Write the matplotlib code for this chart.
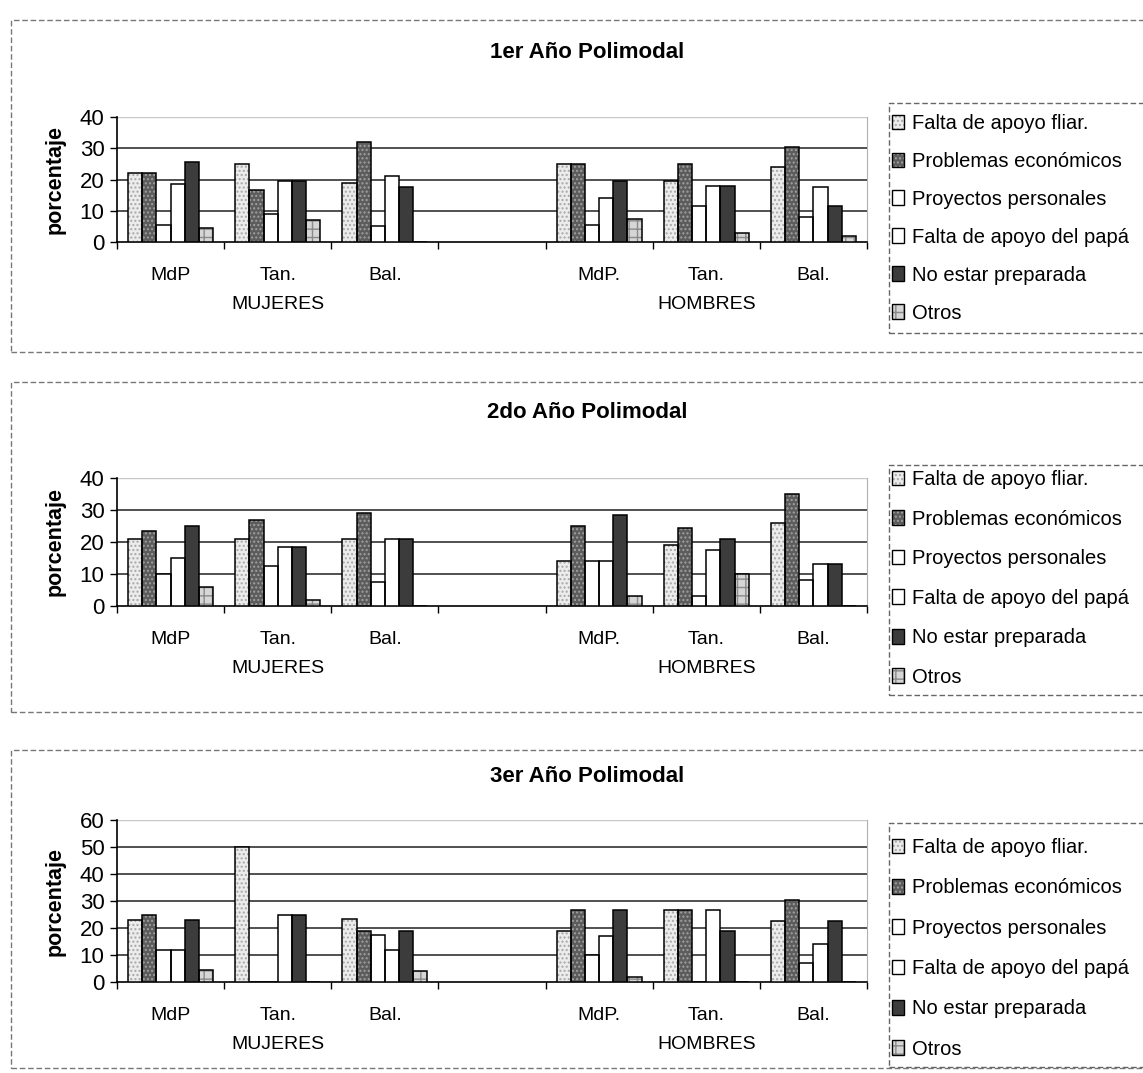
import matplotlib
matplotlib.use("Agg")
import matplotlib.pyplot as plt
from matplotlib.patches import Patch, Rectangle
import numpy as np

# tamaño de la figura en pixeles
W, H = 1143, 1073

categorias = ["MdP", "Tan.", "Bal.", "", "MdP.", "Tan.", "Bal."]
grupos = ["MUJERES", "HOMBRES"]
series = ["Falta de apoyo fliar.", "Problemas económicos", "Proyectos personales",
          "Falta de apoyo del papá", "No estar preparada", "Otros"]
titulos = ["1er Año Polimodal", "2do Año Polimodal", "3er Año Polimodal"]
y_max = [40, 40, 60]

# columnas: MdP, Tan., Bal. (mujeres) y MdP., Tan., Bal. (hombres)
anio1 = [[22, 25, 19, 25, 19.5, 24],
         [22, 16.5, 32, 25, 25, 30.5],
         [5.5, 9, 5, 5.5, 11.5, 8],
         [18.5, 19.5, 21, 14, 18, 17.5],
         [25.5, 19.5, 17.5, 19.5, 18, 11.5],
         [4.5, 7, 0, 7.5, 3, 2]]

anio2 = [[21, 21, 21, 14, 19, 26],
         [23.5, 27, 29, 25, 24.5, 35],
         [10, 12.5, 7.5, 14, 3, 8],
         [15, 18.5, 21, 14, 17.5, 13],
         [25, 18.5, 21, 28.5, 21, 13],
         [6, 2, 0, 3, 10, 0]]

anio3 = [[23, 50, 23.5, 19, 26.5, 22.5],
         [25, 0, 19, 26.5, 26.5, 30.5],
         [12, 0, 17.5, 10, 0, 7],
         [12, 25, 12, 17, 26.5, 14],
         [23, 25, 19, 26.5, 19, 22.5],
         [4.5, 0, 4, 2, 0, 0]]

# estilo de cada serie: (relleno, trama, color de la trama)
estilos = [("#ececec", "....", "#a8a8a8"),
           ("#5c5c5c", "....", "#a0a0a0"),
           ("white", None, "white"),
           ("white", None, "white"),
           ("#3c3c3c", None, "#3c3c3c"),
           ("#d6d6d6", "++", "#8a8a8a")]

# posiciones en pixeles (izq, der, arriba, abajo) de cada grafico
ejes_px = [(117, 867, 117, 242), (117, 867, 478, 606), (117, 867, 820, 982)]
caja_px = [(11, 20, 352), (11, 382, 712), (11, 750, 1068)]
titulo_y = [52, 412, 777]
# leyenda: (izq, arriba, abajo, separacion, primer renglon)
leyenda_px = [(889, 103, 333, 0.94, 114), (889, 465, 695, 1.02, 470), (889, 823, 1067, 1.06, 838)]

plt.rcParams["font.family"] = ["Liberation Sans", "DejaVu Sans"]


def fx(x):
    return x / W


def fy(y):
    return 1 - y / H


def dibujar_panel(fig, k, datos):
    """ Dibuja uno de los tres graficos de barras agrupadas. """

    izq, der, arr, abj = ejes_px[k]
    ax = fig.add_axes([fx(izq), fy(abj), fx(der - izq), (abj - arr) / H])

    cols = np.array([0, 1, 2, 4, 5, 6])
    w = 0.132
    for i, valores in enumerate(datos):
        face, trama, color_trama = estilos[i]
        xs = cols + (i - 2.5) * w
        ax.bar(xs, valores, w, color=face, hatch=trama, edgecolor=color_trama,
               linewidth=0, zorder=3)
        ax.bar(xs, valores, w, fill=False, edgecolor="black", linewidth=1.1, zorder=4)

    ymax = y_max[k]
    ax.set_xlim(-0.5, 6.5)
    ax.set_ylim(0, ymax)
    ticks = np.arange(0, ymax + 1, 10)
    ax.set_yticks(ticks)
    ax.tick_params(axis="y", labelsize=16, length=5, width=1, pad=4)

    # lineas de division
    for t in ticks[1:-1]:
        ax.axhline(t, color="#505050", lw=1.4, zorder=1)
    ax.axhline(ymax, color="#c8c8c8", lw=1, zorder=1)

    # eje x: marcas entre categorias, etiquetas a mano
    ax.set_xticks(np.arange(-0.5, 7, 1))
    ax.set_xticklabels([])
    ax.tick_params(axis="x", length=5, width=1)
    for j, cat in enumerate(categorias):
        ax.annotate(cat, (j, 0), xycoords=("data", "axes fraction"),
                    xytext=(0, -24), textcoords="offset points",
                    ha="center", va="center", fontsize=14)
    for g, centro in zip(grupos, [1, 5]):
        ax.annotate(g, (centro, 0), xycoords=("data", "axes fraction"),
                    xytext=(0, -45), textcoords="offset points",
                    ha="center", va="center", fontsize=14)

    ax.spines["top"].set_visible(False)
    ax.spines["right"].set_color("#b0b0b0")
    ax.spines["left"].set_linewidth(1.2)
    ax.spines["bottom"].set_linewidth(1.2)

    fig.text(fx(55), fy((arr + abj) / 2), "porcentaje", rotation=90,
             ha="center", va="center", fontsize=15.5, fontweight="bold")
    fig.text(fx(587), fy(titulo_y[k]), titulos[k], ha="center", va="center",
             fontsize=16, fontweight="bold")

    # marco del grafico (linea de puntos del escaneo)
    x0, y_arr, y_abj = caja_px[k]
    fig.add_artist(Rectangle((fx(x0), fy(y_abj)), fx(W + 20 - x0), (y_abj - y_arr) / H,
                             fill=False, edgecolor="#777777", lw=1,
                             linestyle=(0, (4, 2)), transform=fig.transFigure))

    # leyenda
    lx, ly_arr, ly_abj, esp, primero = leyenda_px[k]
    fig.add_artist(Rectangle((fx(lx), fy(ly_abj)), fx(W + 20 - lx), (ly_abj - ly_arr) / H,
                             fill=False, edgecolor="#666666", lw=1,
                             linestyle=(0, (4, 2)), transform=fig.transFigure))
    handles = []
    for face, trama, color_trama in estilos:
        capa = Patch(facecolor=face, hatch=trama, edgecolor=color_trama, linewidth=0)
        borde = Patch(fill=False, edgecolor="black", linewidth=1)
        handles.append((capa, borde))
    fig.legend(handles, series, loc="upper left",
               bbox_to_anchor=(fx(lx + 3), fy(primero)),
               frameon=False, fontsize=14.5, handlelength=0.6, handleheight=0.75,
               handletextpad=0.4, labelspacing=esp, borderaxespad=0, borderpad=0)


def main():
    fig = plt.figure(figsize=(W / 100, H / 100), dpi=100)

    for k, datos in enumerate([anio1, anio2, anio3]):
        dibujar_panel(fig, k, datos)

    fig.savefig("out.png", dpi=100)


if __name__ == '__main__':
    main()
